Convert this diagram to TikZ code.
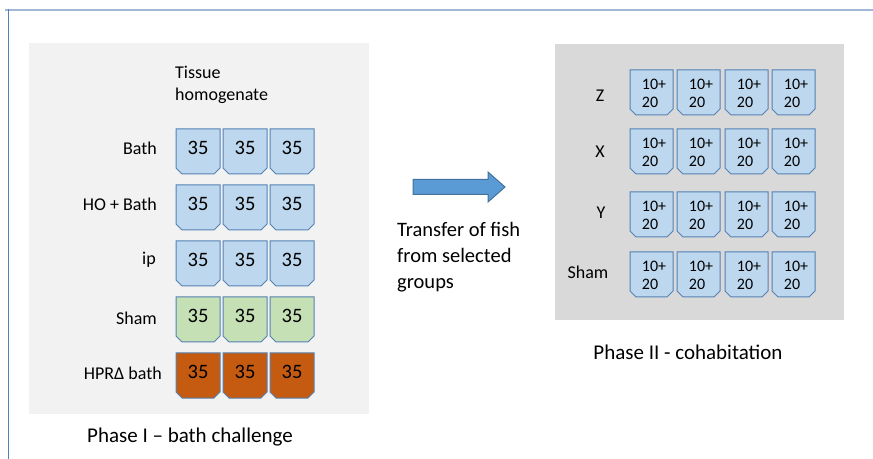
\documentclass[tikz,border=0pt]{standalone}
\usepackage{fontspec}
\setmainfont{Carlito}
\usetikzlibrary{calc}
\definecolor{tankblue}{RGB}{189,215,238}
\definecolor{tankgreen}{RGB}{197,224,180}
\definecolor{tankorange}{RGB}{197,90,17}
\definecolor{tankline}{RGB}{84,130,180}
\definecolor{arrowblue}{RGB}{91,155,213}
\definecolor{arrowline}{RGB}{65,113,156}
\definecolor{frametop}{RGB}{160,184,214}
\definecolor{frameleft}{RGB}{79,129,189}
\definecolor{panelone}{RGB}{242,242,242}
\definecolor{paneltwo}{RGB}{217,217,217}

\begin{document}
\begin{tikzpicture}[x=1bp,y=-1bp,
  tank/.style={draw=tankline, line width=1bp},
  num/.style={font=\fontsize{20.5bp}{24bp}\selectfont, inner sep=0pt},
  smallnum/.style={font=\fontsize{16bp}{18bp}\selectfont, inner sep=0pt, align=left},
  lbl/.style={font=\fontsize{18bp}{22bp}\selectfont, inner sep=0pt},
  phase/.style={font=\fontsize{21bp}{25bp}\selectfont, inner sep=0pt}]
\useasboundingbox (0,0) rectangle (873,459);
\draw[frametop, line width=2bp] (5,10)--(873,10);
\draw[frameleft, line width=1.5bp] (8.5,9)--(8.5,459);
\fill[panelone] (29,43) rectangle (369,414);
\fill[paneltwo] (555,44) rectangle (844,320);

\node[lbl, anchor=west, align=left] (tissue) at (175,85) {Tissue\\homogenate};
\foreach \y/\c [count=\r] in {129/tankblue,185/tankblue,241/tankblue,297/tankgreen,353/tankorange}{
  \foreach \x [count=\k] in {176,223,270}{
    \draw[tank, fill=\c] (\x,\y) -- ++(44,0) -- ++(0,39) -- ++(-6,6) -- ++(-32,0) -- ++(-6,-6) -- cycle;
    \node[num] (a\r\k) at (\x+22,\y+19) {35};
  }
}
\node[lbl, anchor=east] (bath) at (157,148) {Bath};
\node[lbl, anchor=east] (hobath) at (157,204) {HO + Bath};
\node[lbl, anchor=east] (ip) at (156,260) {ip};
\node[lbl, anchor=east] (sham) at (157,318) {Sham};
\node[lbl, anchor=east] (hpr) at (162,373) {HPRΔ bath};
\node[phase] (phaseone) at (190,437) {Phase I – bath challenge};

\draw[arrowline, fill=arrowblue, line width=1bp] (413,179.5) -- (488,179.5) -- (488,172) -- (505,187) -- (488,202) -- (488,194.5) -- (413,194.5) -- cycle;
\node[anchor=west, align=left, inner sep=0pt, font=\fontsize{20.5bp}{26bp}\selectfont] (transfer) at (397,257) {Transfer of fish\\from selected\\groups};

\foreach \y [count=\r] in {70,129,192,252}{
  \foreach \x [count=\k] in {630,677,725,772}{
    \draw[tank, fill=tankblue] (\x,\y) -- ++(43,0) -- ++(0,39) -- ++(-6,6) -- ++(-31,0) -- ++(-6,-6) -- cycle;
    \node[smallnum] (b\r\k) at (\x+24,\y+23) {10+\\20};
  }
}
\node[lbl] (z) at (600,96) {Z};
\node[lbl] (xg) at (600,152) {X};
\node[lbl] (yg) at (601,213) {Y};
\node[lbl] (shamtwo) at (588,272) {Sham};
\node[phase] (phasetwo) at (688,352) {Phase II - cohabitation};
\end{tikzpicture}
\end{document}
